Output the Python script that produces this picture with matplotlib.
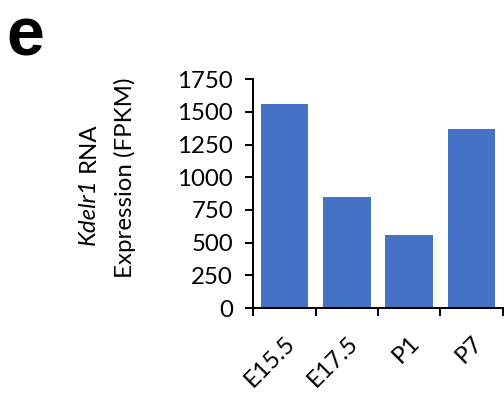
import matplotlib
matplotlib.use("Agg")
import matplotlib.pyplot as plt
import numpy as np

stages = ["E15.5", "E17.5", "P1", "P7"]
fpkm = [1558, 846, 558, 1373]
yticks = [0, 250, 500, 750, 1000, 1250, 1500, 1750]

plt.rcParams['font.family'] = 'Lato'
FS = 24

fig = plt.figure(figsize=(7, 5.5), dpi=72)
ax = fig.add_axes([0.502, 0.222, 0.496, 0.578])

x = np.arange(len(stages))
ax.bar(x, fpkm, width=0.76, color='#4472C4', zorder=2)

ax.set_xlim(-0.5, len(stages) - 0.5)
ax.set_ylim(0, 1750)
ax.set_yticks(yticks)
ax.set_yticklabels([str(v) for v in yticks])

# ticks sit on the category boundaries, labels at the bar centres
ax.set_xticks(np.arange(len(stages) + 1) - 0.5)
ax.set_xticklabels([])
ax.set_xticks(x, minor=True)
ax.set_xticklabels(stages, minor=True, rotation=45, ha='right', va='top',
                   rotation_mode='anchor')
ax.tick_params(axis='x', which='minor', length=0, pad=24, labelsize=FS)
ax.tick_params(axis='x', which='major', direction='out', length=8, width=2)
ax.tick_params(axis='y', direction='out', length=8, width=2, pad=12, labelsize=FS)

for s in ['top', 'right']:
    ax.spines[s].set_visible(False)
for s in ['left', 'bottom']:
    ax.spines[s].set_linewidth(2)

# two-line y label, gene name in italics
t1 = fig.text(0.175, 0.381, 'Kdelr1', rotation=90, ha='center', va='bottom',
              fontsize=FS, style='italic')
ax.annotate('RNA', xy=(0.5, 1.0), xycoords=t1, xytext=(0, 6),
            textcoords='offset points', rotation=90, ha='center',
            va='bottom', fontsize=FS, annotation_clip=False)
fig.text(0.248, 0.55, 'Expression (FPKM)', rotation=90, ha='center', va='center',
         fontsize=FS)
fig.text(0.012, 0.985, 'e', fontsize=68, fontweight='bold',
         family='Liberation Sans', ha='left', va='top')

fig.savefig('out.png', dpi=72)
